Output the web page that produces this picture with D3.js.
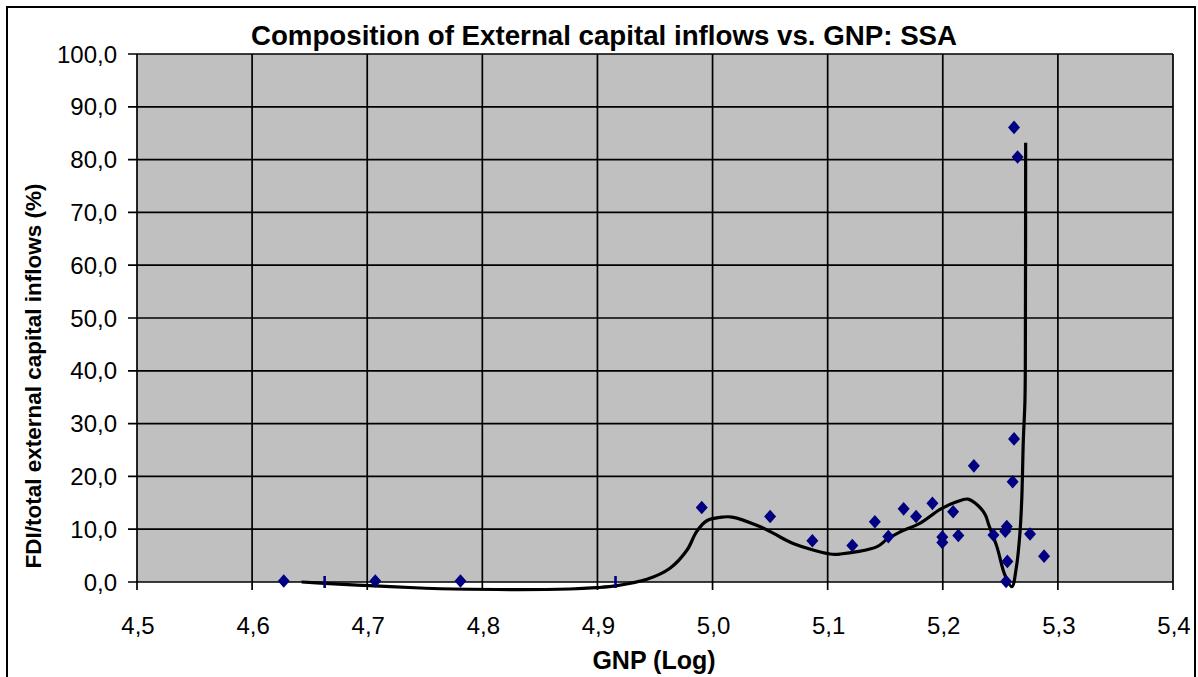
<!DOCTYPE html>
<html><head><meta charset="utf-8">
<script src="https://cdn.jsdelivr.net/npm/d3@7"></script>
<style>body{margin:0;background:#fff}svg{display:block}text{font-family:Arial,"Liberation Sans",sans-serif}</style>
</head><body>
<svg id="c" width="1198" height="677"></svg>
<script>
const xTicks = [4.5,4.6,4.7,4.8,4.9,5.0,5.1,5.2,5.3,5.4];
const yTicks = [0,10,20,30,40,50,60,70,80,90,100];
const pointX = [4.6275,4.707,4.781,4.9906,5.050,5.0867,5.1214,5.141,5.1527,5.166,5.1768,5.191,5.1996,5.1996,5.209,5.2135,5.227,5.244,5.2556,5.2543,5.2607,5.2619,5.2561,5.255,5.2758,5.288,5.2619,5.265];
const pointY = [0.2,0.2,0.2,14.1,12.4,7.8,6.9,11.4,8.6,13.85,12.4,14.9,8.5,7.5,13.3,8.8,22.0,8.9,10.5,9.6,19.0,27.1,3.9,0.1,9.1,4.9,86.1,80.5];
const flatX = [4.663,4.9157];
const flatY = [0,0];
const trendX = [4.643,4.663,4.702,4.746,4.775,4.876,4.899,4.917,4.943,4.963,4.978,4.986,4.995,5.009,5.017,5.041,5.053,5.070,5.102,5.111,5.143,5.151,5.163,5.180,5.198,5.212,5.222,5.231,5.237,5.240,5.247,5.254,5.260,5.264,5.267,5.2686,5.270,5.2714,5.2718,5.272];
const trendY = [0.0,-0.25,-0.7,-1.14,-1.33,-1.33,-1.08,-0.7,0.5,2.6,6.1,9.5,11.6,12.3,12.3,10.5,9.2,7.3,5.3,5.3,6.7,8.0,9.5,11.1,13.8,15.2,15.7,14.4,12.7,10.8,6.7,1.3,-0.9,2.9,9.2,15.6,27,34.5,50,83.2];
const fmt = v => v.toFixed(1).replace('.', ',');

const svg = d3.select('#c');
const x = d3.scaleLinear().domain([4.5,5.4]).range([137,1173]);
const y = d3.scaleLinear().domain([0,100]).range([582,54]);

svg.append('rect').attr('x',7).attr('y',7).attr('width',1188).attr('height',690).attr('fill','#fff').attr('stroke','#000').attr('stroke-width',2);
svg.append('rect').attr('x',x(4.5)).attr('y',y(100)).attr('width',x(5.4)-x(4.5)).attr('height',y(0)-y(100)).attr('fill','#c0c0c0');

const g = svg.append('g');
g.selectAll('.gy').data(yTicks).join('line').attr('x1',x(4.5)-9).attr('x2',x(5.4)).attr('y1',d=>y(d)).attr('y2',d=>y(d)).attr('stroke','#000').attr('stroke-width',1.7);
g.selectAll('.gx').data(xTicks).join('line').attr('x1',d=>x(d)).attr('x2',d=>x(d)).attr('y1',y(100)).attr('y2',y(0)+8).attr('stroke','#000').attr('stroke-width',1.7);

svg.selectAll('.yl').data(yTicks).join('text').attr('x',117).attr('y',d=>y(d)+8.5).attr('text-anchor','end').attr('font-size',24).attr('fill','#000').text(fmt);
svg.selectAll('.xl').data(xTicks).join('text').attr('x',d=>x(d)+1).attr('y',634).attr('text-anchor','middle').attr('font-size',24).attr('fill','#000').text(fmt);

const line = d3.line().x((d,i)=>x(trendX[i])).y((d,i)=>y(trendY[i])).curve(d3.curveCatmullRom.alpha(0.5));
svg.append('path').attr('d',line(trendX)).attr('fill','none').attr('stroke','#000').attr('stroke-width',3.2);

svg.selectAll('.pt').data(pointX).join('path')
  .attr('d','M0,-6.8L6,0L0,6.8L-6,0Z')
  .attr('transform',(d,i)=>`translate(${x(d)},${y(pointY[i])})`).attr('fill','#000080');
svg.selectAll('.fl').data(flatX).join('rect')
  .attr('x',d=>x(d)-1.3).attr('y',(d,i)=>y(flatY[i])-6).attr('width',2.6).attr('height',12).attr('fill','#000080');

svg.append('text').attr('x',604).attr('y',45).attr('text-anchor','middle').attr('font-size',27.7).attr('font-weight','bold').text('Composition of External capital inflows vs. GNP: SSA');
svg.append('text').attr('x',654).attr('y',669).attr('text-anchor','middle').attr('font-size',25).attr('font-weight','bold').text('GNP (Log)');
svg.append('text').attr('transform','translate(41,376) rotate(-90)').attr('text-anchor','middle').attr('font-size',22.5).attr('font-weight','bold').text('FDI/total external capital inflows (%)');
</script>
</body></html>
